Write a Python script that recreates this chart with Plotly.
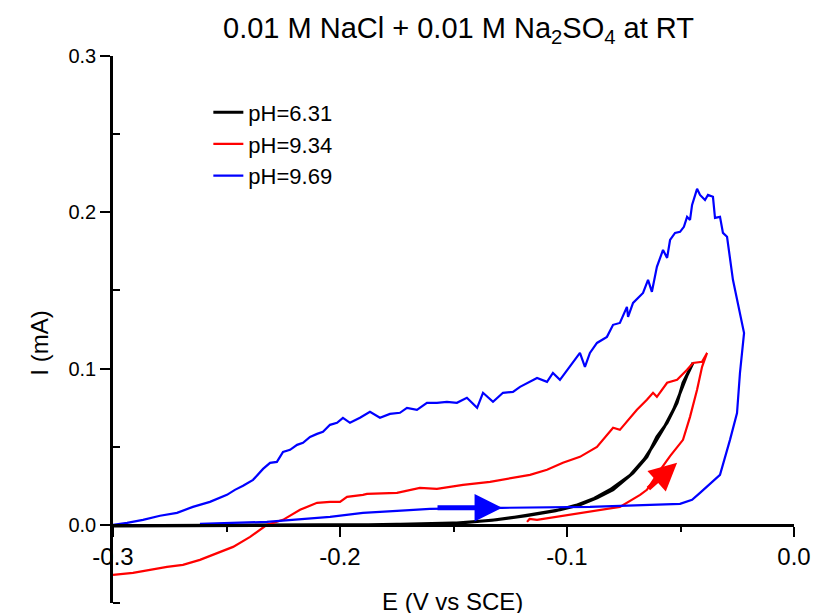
import plotly.graph_objects as go

# ---------------- data ----------------
series_names = ["pH=6.31", "pH=9.34", "pH=9.69"]
series_colors = ["#000000", "#ff0000", "#0000ff"]

# pH = 6.31 (black): forward sweep then return sweep
black_E = [-0.3000, -0.2500, -0.2000, -0.1780, -0.1458, -0.1310, -0.1163, -0.1031,
           -0.0943, -0.0868, -0.0797, -0.0709, -0.0648, -0.0604, -0.0559, -0.0515,
           -0.0489, -0.0458, -0.0445,
           -0.0470, -0.0500, -0.0530, -0.0570, -0.0615, -0.0660, -0.0720, -0.0810,
           -0.0880, -0.0960, -0.1050, -0.1180, -0.1330, -0.1500, -0.2000, -0.3000]
black_I = [-0.0006, -0.0004, 0.0000, 0.0003, 0.0013, 0.0032, 0.0064, 0.0096,
           0.0128, 0.0173, 0.0224, 0.0333, 0.0435, 0.0563, 0.0653, 0.0781,
           0.0909, 0.0992, 0.1036,
           0.0960, 0.0850, 0.0740, 0.0630, 0.0520, 0.0420, 0.0320, 0.0225,
           0.0170, 0.0125, 0.0090, 0.0058, 0.0030, 0.0010, -0.0002, -0.0008]

# pH = 9.34 (red)
red_E = [-0.1176, -0.1165, -0.1132, -0.0943, -0.0797, -0.0767, -0.0678, -0.0648,
         -0.0590, -0.0546, -0.0489, -0.0458, -0.0427, -0.0405, -0.0383,
         -0.0405, -0.0445, -0.0471, -0.0515, -0.0546, -0.0559, -0.0604, -0.0621,
         -0.0648, -0.0692, -0.0767, -0.0797, -0.0868, -0.0943, -0.1018, -0.1088,
         -0.1163, -0.1238, -0.1339, -0.1458, -0.1573, -0.1648, -0.1749, -0.1881,
         -0.1899, -0.1969, -0.2000, -0.2044, -0.2101, -0.2176, -0.2251, -0.2322,
         -0.2396, -0.2471, -0.2542, -0.2617, -0.2692, -0.2762, -0.2837, -0.2912,
         -0.3000]
red_I = [0.0019, 0.0038, 0.0032, 0.0077, 0.0110, 0.0115, 0.0192, 0.0224,
         0.0350, 0.0440, 0.0544, 0.0691, 0.0864, 0.1011, 0.1100,
         0.1043, 0.1036, 0.0992, 0.0928, 0.0915, 0.0909, 0.0819, 0.0845,
         0.0800, 0.0736, 0.0608, 0.0621, 0.0499, 0.0435, 0.0397, 0.0352,
         0.0320, 0.0301, 0.0275, 0.0256, 0.0230, 0.0237, 0.0205, 0.0198,
         0.0192, 0.0179, 0.0147, 0.0147, 0.0141, 0.0096, 0.0032, 0.0000,
         -0.0077, -0.0141, -0.0179, -0.0224, -0.0256, -0.0269, -0.0288, -0.0307,
         -0.0320]

# pH = 9.69 (blue)
blue_E = [-0.2617, -0.2322, -0.2044, -0.1899, -0.1749, -0.1604, -0.1286, -0.1031,
          -0.0899, -0.0502, -0.0449, -0.0414, -0.0370, -0.0326, -0.0282, -0.0251,
          -0.0238, -0.0225, -0.0220,
          -0.0269, -0.0295, -0.0313, -0.0326, -0.0348, -0.0357, -0.0379, -0.0392,
          -0.0414, -0.0427, -0.0449, -0.0458, -0.0471, -0.0485, -0.0502, -0.0524,
          -0.0546, -0.0559, -0.0577, -0.0604, -0.0626, -0.0643, -0.0665, -0.0709,
          -0.0731, -0.0736, -0.0767, -0.0797, -0.0824, -0.0868, -0.0899, -0.0921,
          -0.0943, -0.0987, -0.1031, -0.1062, -0.1088, -0.1132, -0.1176, -0.1207,
          -0.1238, -0.1282, -0.1326, -0.1370, -0.1396, -0.1441, -0.1485, -0.1529,
          -0.1573, -0.1617, -0.1661, -0.1705, -0.1736, -0.1780, -0.1824, -0.1868,
          -0.1912, -0.1956, -0.1987, -0.2013, -0.2044, -0.2075, -0.2101, -0.2132,
          -0.2163, -0.2189, -0.2220, -0.2251, -0.2278, -0.2308, -0.2339, -0.2383,
          -0.2427, -0.2463, -0.2498, -0.2573, -0.2648, -0.2718, -0.2793, -0.2868,
          -0.2938, -0.3000]
blue_I = [0.0006, 0.0019, 0.0051, 0.0077, 0.0090, 0.0102, 0.0109, 0.0115,
          0.0115, 0.0134, 0.0160, 0.0205, 0.0260, 0.0320, 0.0544, 0.0716,
          0.0972, 0.1184, 0.1228,
          0.1568, 0.1843, 0.1868, 0.1971, 0.1964, 0.2099, 0.2111, 0.2079,
          0.2111, 0.2150, 0.2047, 0.1951, 0.1971, 0.1907, 0.1875, 0.1868,
          0.1823, 0.1708, 0.1759, 0.1651, 0.1491, 0.1568, 0.1484, 0.1420,
          0.1331, 0.1395, 0.1292, 0.1280, 0.1203, 0.1164, 0.1100, 0.1011,
          0.1100, 0.1011, 0.0928, 0.0972, 0.0915, 0.0940, 0.0909, 0.0883,
          0.0851, 0.0845, 0.0787, 0.0845, 0.0749, 0.0813, 0.0781, 0.0787,
          0.0781, 0.0781, 0.0736, 0.0749, 0.0717, 0.0710, 0.0685, 0.0723,
          0.0685, 0.0653, 0.0685, 0.0653, 0.0640, 0.0595, 0.0582, 0.0563,
          0.0525, 0.0512, 0.0480, 0.0467, 0.0403, 0.0397, 0.0358, 0.0288,
          0.0250, 0.0224, 0.0192, 0.0147, 0.0115, 0.0077, 0.0058, 0.0032,
          0.0013, 0.0000]

# sweep-direction arrows: (tail E, tail I, tip E, tip I)
blue_arrow = (-0.1577, 0.0109, -0.1286, 0.0109)
red_arrow = (-0.0648, 0.0224, -0.0515, 0.0397)

x_tickvals = [-0.3, -0.2, -0.1, 0.0]
x_ticktext = ["-0.3", "-0.2", "-0.1", "0.0"]
x_minor = [-0.25, -0.15, -0.05]
y_tickvals = [0.0, 0.1, 0.2, 0.3]
y_ticktext = ["0.0", "0.1", "0.2", "0.3"]
y_minor = [-0.05, 0.05, 0.15, 0.25]

x_range = [-0.3, 0.0]
y_range = [-0.05, 0.3]

title_text = "0.01 M NaCl + 0.01 M Na<sub>2</sub>SO<sub>4</sub> at RT"
x_title = "E (V vs SCE)"
y_title = "I (mA)"

# ---------------- figure ----------------
FONT = "Liberation Sans, Arial, sans-serif"
fig = go.Figure()
for i, (E, I) in enumerate([(black_E, black_I), (red_E, red_I), (blue_E, blue_I)]):
    fig.add_trace(go.Scatter(
        x=E, y=I, mode="lines", name=series_names[i],
        legendgroup=f"g{i}",
        line=dict(color=series_colors[i], width=3 if i == 0 else 2.2),
    ))

for (tx, ty, hx, hy), col in [(blue_arrow, "#0000ff"), (red_arrow, "#ff0000")]:
    fig.add_annotation(x=hx, y=hy, ax=tx, ay=ty, xref="x", yref="y",
                       axref="x", ayref="y", text="", showarrow=True,
                       arrowhead=2, arrowsize=1.1, arrowwidth=5, arrowcolor=col)

zero_pos = (0 - y_range[0]) / (y_range[1] - y_range[0])

fig.update_layout(
    width=814, height=613,
    margin=dict(l=113, r=20, t=56, b=10),
    paper_bgcolor="white", plot_bgcolor="white",
    font=dict(family=FONT, color="black"),
    showlegend=True,
    legend=dict(x=0.14, y=0.935, xanchor="left", yanchor="top",
                font=dict(size=22, family=FONT), bgcolor="rgba(0,0,0,0)",
                tracegroupgap=0),
    xaxis=dict(range=x_range, anchor="free", position=zero_pos, automargin=False,
               showline=True, linecolor="black", linewidth=2.5,
               tickmode="array", tickvals=x_tickvals, ticktext=x_ticktext,
               ticks="outside", ticklen=10, tickwidth=2, tickcolor="black",
               tickfont=dict(size=24, family=FONT),
               minor=dict(tickmode="array", tickvals=x_minor, ticks="outside",
                          ticklen=5, tickwidth=2, tickcolor="black"),
               showgrid=False, zeroline=False),
    yaxis=dict(range=y_range, domain=[0, 1], automargin=False,
               showline=True, linecolor="black", linewidth=2.5,
               tickmode="array", tickvals=y_tickvals, ticktext=y_ticktext,
               ticks="outside", ticklen=10, tickwidth=2, tickcolor="black",
               tickfont=dict(size=20, family=FONT),
               minor=dict(tickmode="array", tickvals=y_minor, ticks="inside",
                          ticklen=7, tickwidth=2, tickcolor="black"),
               showgrid=False, zeroline=False),
)

fig.add_annotation(text=title_text, xref="paper", yref="paper", x=0.508, y=1.048,
                   xanchor="center", yanchor="middle", showarrow=False,
                   font=dict(size=29, family=FONT))
fig.add_annotation(text=x_title, xref="paper", yref="paper", x=0.499, y=0.003,
                   xanchor="center", yanchor="middle", showarrow=False,
                   font=dict(size=24, family=FONT))
fig.add_annotation(text=y_title, xref="paper", yref="paper", x=-0.108, y=0.475,
                   xanchor="center", yanchor="middle", showarrow=False,
                   textangle=-90, font=dict(size=24, family=FONT))

# remove the default 8px page margin so the 814x613 figure fills the window exactly
fig.write_html("out.html",
               config={"displayModeBar": False},
               post_script="document.body.style.margin='0';"
                           "document.body.style.overflow='hidden';")
